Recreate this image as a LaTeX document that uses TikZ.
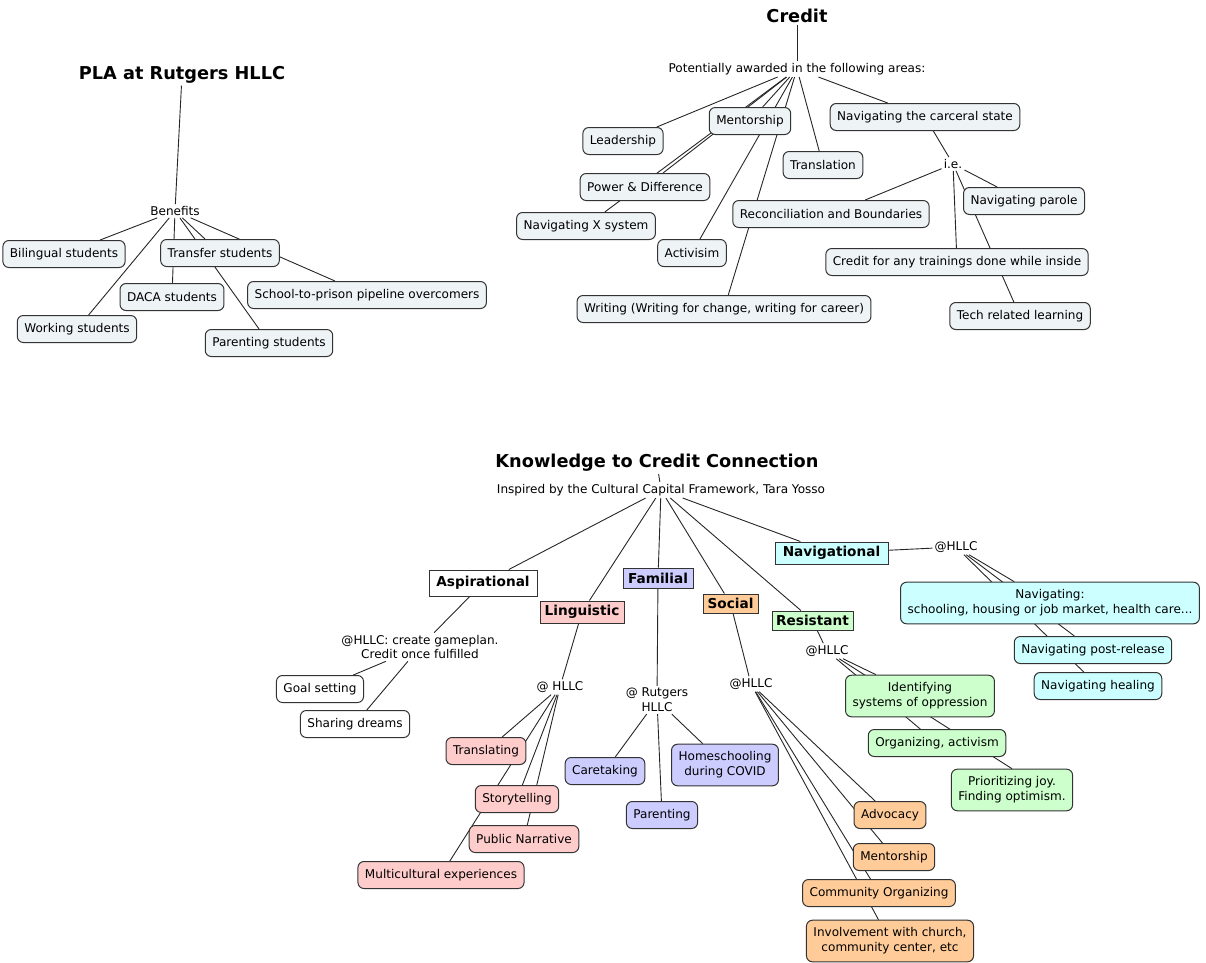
\documentclass[tikz,border=0pt]{standalone}
\usepackage{fontspec}
\setmainfont{DejaVu Sans}
\usetikzlibrary{backgrounds}
\definecolor{boxgray}{HTML}{EEF3F5}
\definecolor{lingc}{HTML}{FFCCCC}
\definecolor{famc}{HTML}{CCCCFF}
\definecolor{socc}{HTML}{FFCC99}
\definecolor{resc}{HTML}{CCFFCC}
\definecolor{navc}{HTML}{CCFFFF}
\definecolor{edgec}{HTML}{333333}
\tikzset{
  cbox/.style={draw=edgec, line width=1bp, rounded corners=6bp, fill=boxgray, inner xsep=7bp, inner ysep=7.5bp, minimum height=27bp, align=center, font=\fontsize{12.1}{15}\selectfont},
  cat/.style={draw=edgec, line width=1bp, inner xsep=2bp, inner ysep=1bp, font=\bfseries\fontsize{13.7}{16}\selectfont},
  lbl/.style={inner sep=2bp, align=center, font=\fontsize{12.1}{15}\selectfont},
  ttl/.style={inner sep=2bp, font=\bfseries\fontsize{17.8}{20}\selectfont},
  conn/.style={draw=black!85, line width=0.9bp},
}
\begin{document}
\begin{tikzpicture}[x=1bp,y=-1bp]
\useasboundingbox (0,0) rectangle (1206,963);
% ---------- PLA ----------
\node[ttl] (pla) at (182,75) {PLA at Rutgers HLLC};
\node[lbl] (benefits) at (175,211) {Benefits};
\node[cbox] (bil) at (64,254) {Bilingual students};
\node[cbox] (trans) at (220,253) {Transfer students};
\node[cbox] (daca) at (172,297) {DACA students};
\node[cbox] (stp) at (367,295) {School-to-prison pipeline overcomers};
\node[cbox] (work) at (77,329) {Working students};
\node[cbox] (parst) at (269,343) {Parenting students};
% ---------- Credit ----------
\node[ttl] (credit) at (797,16) {Credit};
\node[lbl] (pot) at (797,69) {Potentially awarded in the following areas:};
\node[cbox] (lead) at (623,141) {Leadership};
\node[cbox] (ment) at (750,121) {Mentorship};
\node[cbox] (carc) at (925,117) {Navigating the carceral state};
\node[cbox] (transl) at (823,165) {Translation};
\node[cbox] (pd) at (645,187) {Power \& Difference};
\node[cbox] (navx) at (586,226) {Navigating X system};
\node[cbox] (recon) at (831,214) {Reconciliation and Boundaries};
\node[cbox] (activ) at (692,253) {Activisim};
\node[cbox] (writ) at (724,309) {Writing (Writing for change, writing for career)};
\node[lbl] (ie) at (953,164) {i.e.};
\node[cbox] (parole) at (1024,201) {Navigating parole};
\node[cbox] (train) at (957,262) {Credit for any trainings done while inside};
\node[cbox] (tech) at (1020,316) {Tech related learning};
% ---------- Knowledge ----------
\node[ttl] (k2c) at (657,463) {Knowledge to Credit Connection};
\node[lbl] (insp) at (661,490) {Inspired by the Cultural Capital Framework, Tara Yosso};
\node[cat, fill=white, minimum width=108bp, minimum height=26bp] (asp) at (483,583) {Aspirational};
\node[cat, fill=lingc, minimum width=84bp, minimum height=22bp] (ling) at (582,612) {Linguistic};
\node[cat, fill=famc, minimum width=70bp, minimum height=20bp] (fam) at (658,578) {Familial};
\node[cat, fill=socc, minimum width=55bp, minimum height=19bp] (soc) at (730.5,603.5) {Social};
\node[cat, fill=resc, minimum width=81bp, minimum height=19bp] (res) at (812.5,620.5) {Resistant};
\node[cat, fill=navc, minimum width=113bp, minimum height=22bp] (nav) at (831.5,553) {Navigational};
% aspirational
\node[lbl] (asplbl) at (420,647) {@HLLC: create gameplan.\\Credit once fulfilled};
\node[cbox, fill=white] (goal) at (320,689) {Goal setting};
\node[cbox, fill=white] (dream) at (355,724) {Sharing dreams};
% linguistic
\node[lbl] (linglbl) at (560,687) {@ HLLC};
\node[cbox, fill=lingc] (tling) at (486,751) {Translating};
\node[cbox, fill=lingc] (story) at (517,799) {Storytelling};
\node[cbox, fill=lingc] (pubn) at (524,839) {Public Narrative};
\node[cbox, fill=lingc] (multi) at (441,875) {Multicultural experiences};
% familial
\node[lbl] (famlbl) at (657,700) {@ Rutgers\\HLLC};
\node[cbox, fill=famc] (care) at (605,771) {Caretaking};
\node[cbox, fill=famc] (parf) at (662,815) {Parenting};
\node[cbox, fill=famc] (home) at (725,765) {Homeschooling\\during COVID};
% social
\node[lbl] (soclbl) at (751,684) {@HLLC};
\node[cbox, fill=socc] (adv) at (890,815) {Advocacy};
\node[cbox, fill=socc] (ments) at (894,857) {Mentorship};
\node[cbox, fill=socc] (comm) at (879,893) {Community Organizing};
\node[cbox, fill=socc] (church) at (890,941) {Involvement with church,\\community center, etc};
% resistant
\node[lbl] (reslbl) at (827,651) {@HLLC};
\node[cbox, fill=resc] (ident) at (920,696) {Identifying\\systems of oppression};
\node[cbox, fill=resc] (org) at (937,743) {Organizing, activism};
\node[cbox, fill=resc] (joy) at (1012,790) {Prioritizing joy.\\Finding optimism.};
% navigational
\node[lbl] (navlbl) at (956,547) {@HLLC};
\node[cbox, fill=navc] (navg) at (1050,603) {Navigating:\\schooling, housing or job market, health care...};
\node[cbox, fill=navc] (post) at (1093,650) {Navigating post-release};
\node[cbox, fill=navc] (heal) at (1098,686) {Navigating healing};
% ---------- connectors ----------
\begin{pgfonlayer}{background}
\path[conn] (pla) -- (benefits);
\foreach \t in {bil,trans,daca,stp,work,parst} \path[conn] (benefits) -- (\t);
\path[conn] (credit) -- (pot);
\foreach \t in {lead,ment,carc,transl,pd,navx,activ,writ} \path[conn] (pot) -- (\t);
\path[conn] (carc) -- (ie);
\foreach \t in {recon,parole,train,tech} \path[conn] (ie) -- (\t);
\path[conn] (k2c) -- (insp);
\foreach \t in {asp,ling,fam,soc,res,nav} \path[conn] (insp) -- (\t);
\path[conn] (asp) -- (asplbl);
\foreach \t in {goal,dream} \path[conn] (asplbl) -- (\t);
\path[conn] (ling) -- (linglbl);
\foreach \t in {tling,story,pubn,multi} \path[conn] (linglbl) -- (\t);
\path[conn] (fam) -- (famlbl);
\foreach \t in {care,parf,home} \path[conn] (famlbl) -- (\t);
\path[conn] (soc) -- (soclbl);
\foreach \t in {adv,ments,comm,church} \path[conn] (soclbl) -- (\t);
\path[conn] (res) -- (reslbl);
\foreach \t in {ident,org,joy.north} \path[conn] (reslbl) -- (\t);
\path[conn] (nav) -- (navlbl);
\foreach \t in {navg,post,heal} \path[conn] (navlbl) -- (\t);
\end{pgfonlayer}
\end{tikzpicture}
\end{document}
